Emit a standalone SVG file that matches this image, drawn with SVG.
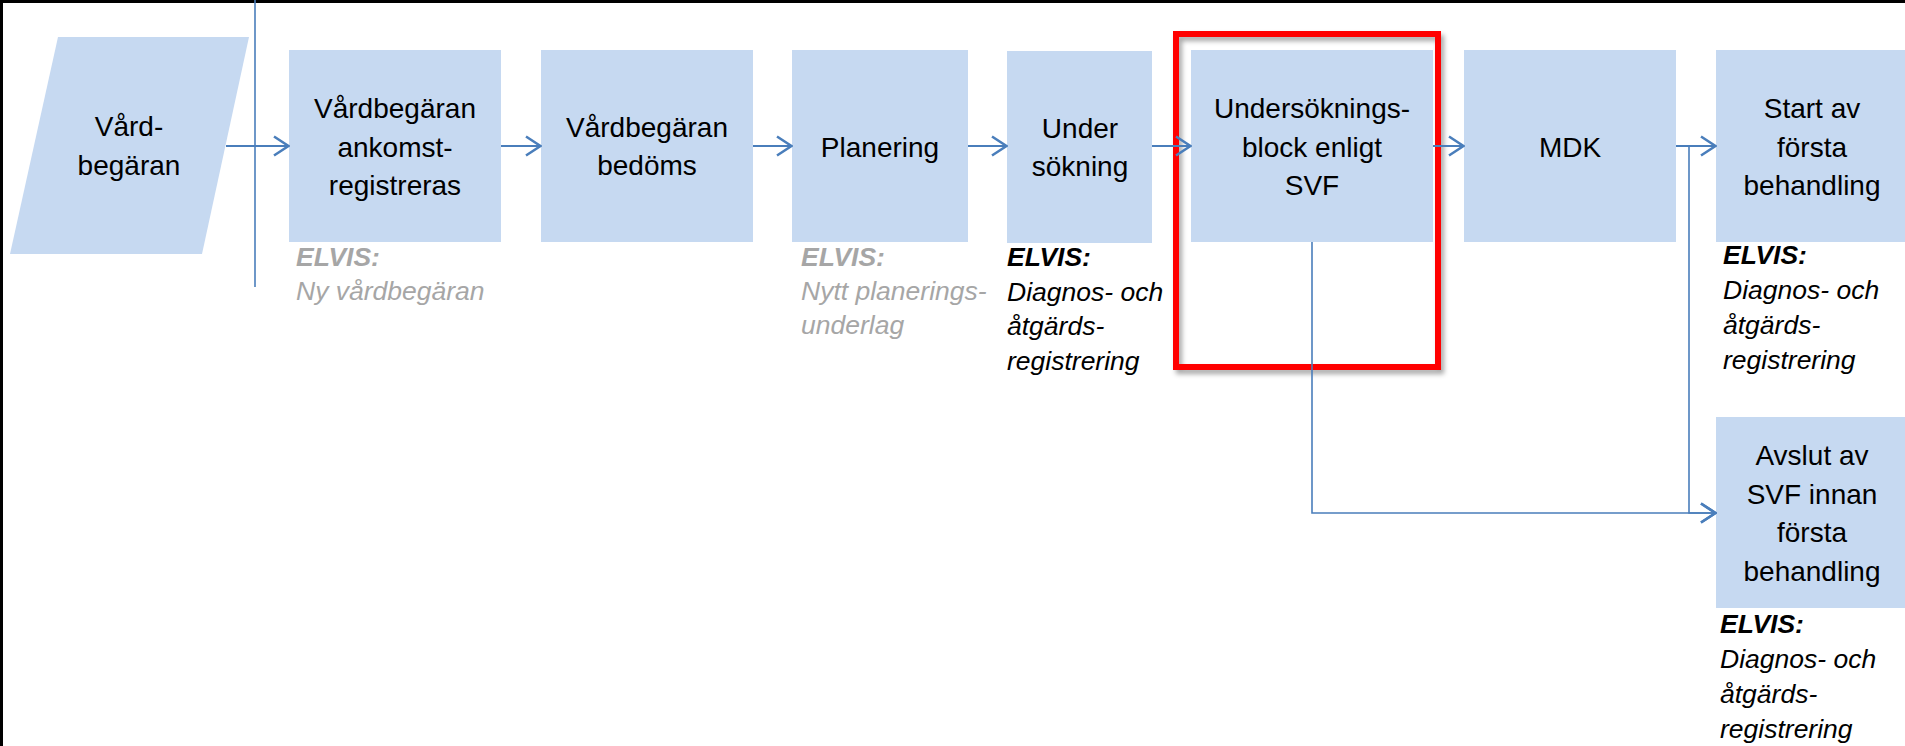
<svg xmlns="http://www.w3.org/2000/svg" width="1905" height="746" viewBox="0 0 1905 746">
<style>
.box{fill:#C6D9F1;}
.t{font-family:"Liberation Sans",Arial,sans-serif;font-size:28px;fill:#000;text-anchor:middle;}
.a{font-family:"Liberation Sans",Arial,sans-serif;font-size:26.5px;font-style:italic;}
.ab{font-weight:bold;}
.gray{fill:#A6A6A6;}
.blk{fill:#000;}
.c{fill:none;stroke:#4A7EBB;stroke-width:2;}
.cv{fill:none;stroke:#4A7EBB;stroke-width:1.6;}
</style>
<defs>
<marker id="arr" viewBox="0 0 18 22" refX="17" refY="11" markerWidth="18" markerHeight="22" markerUnits="userSpaceOnUse" orient="auto">
<path d="M2,1.5 L16.5,11 L2,20.5" fill="none" stroke="#4A7EBB" stroke-width="2.6"/>
</marker>
<filter id="sh" x="-10%" y="-10%" width="130%" height="130%">
<feDropShadow dx="3" dy="4" stdDeviation="2.5" flood-color="#000" flood-opacity="0.35"/>
</filter>
</defs>
<rect x="0" y="0" width="1905" height="746" fill="#fff"/>
<rect x="0" y="0" width="1905" height="3" fill="#000"/>
<rect x="0" y="0" width="3" height="746" fill="#000"/>
<line x1="255" y1="0" x2="255" y2="287" stroke="#4A7EBB" stroke-width="1.6"/>

<g id="n-vardbegaran">
<polygon class="box" points="58,37 249,37 202,254 10,254"/>
<text class="t" x="129" y="136">Vård-</text>
<text class="t" x="129" y="175">begäran</text>
</g>
<g id="n-ankomst">
<rect class="box" x="289" y="50" width="212" height="192"/>
<text class="t" x="395" y="118">Vårdbegäran</text>
<text class="t" x="395" y="157">ankomst-</text>
<text class="t" x="395" y="195">registreras</text>
<text class="a ab gray" x="296" y="266">ELVIS:</text>
<text class="a gray" x="296" y="300">Ny vårdbegäran</text>
</g>
<g id="n-bedoms">
<rect class="box" x="541" y="50" width="212" height="192"/>
<text class="t" x="647" y="137">Vårdbegäran</text>
<text class="t" x="647" y="175">bedöms</text>
</g>
<g id="n-planering">
<rect class="box" x="792" y="50" width="176" height="192"/>
<text class="t" x="880" y="157">Planering</text>
<text class="a ab gray" x="801" y="266">ELVIS:</text>
<text class="a gray" x="801" y="300">Nytt planerings-</text>
<text class="a gray" x="801" y="334">underlag</text>
</g>
<g id="n-undersokning">
<rect class="box" x="1007" y="51" width="145" height="192"/>
<text class="t" x="1080" y="138">Under</text>
<text class="t" x="1080" y="176">sökning</text>
<text class="a ab blk" x="1007" y="266">ELVIS:</text>
<text class="a blk" x="1007" y="301">Diagnos- och</text>
<text class="a blk" x="1007" y="335">åtgärds-</text>
<text class="a blk" x="1007" y="370">registrering</text>
</g>
<g id="n-block">
<rect class="box" x="1191" y="50" width="242" height="192"/>
<text class="t" x="1312" y="118">Undersöknings-</text>
<text class="t" x="1312" y="157">block enligt</text>
<text class="t" x="1312" y="195">SVF</text>
</g>
<g id="n-mdk">
<rect class="box" x="1464" y="50" width="212" height="192"/>
<text class="t" x="1570" y="157">MDK</text>
</g>
<g id="n-start">
<rect class="box" x="1716" y="50" width="212" height="192"/>
<text class="t" x="1812" y="118">Start av</text>
<text class="t" x="1812" y="157">första</text>
<text class="t" x="1812" y="195">behandling</text>
<text class="a ab blk" x="1723" y="264">ELVIS:</text>
<text class="a blk" x="1723" y="299">Diagnos- och</text>
<text class="a blk" x="1723" y="334">åtgärds-</text>
<text class="a blk" x="1723" y="369">registrering</text>
</g>
<g id="n-avslut">
<rect class="box" x="1716" y="417" width="212" height="191"/>
<text class="t" x="1812" y="465">Avslut av</text>
<text class="t" x="1812" y="504">SVF innan</text>
<text class="t" x="1812" y="542">första</text>
<text class="t" x="1812" y="581">behandling</text>
<text class="a ab blk" x="1720" y="633">ELVIS:</text>
<text class="a blk" x="1720" y="668">Diagnos- och</text>
<text class="a blk" x="1720" y="703">åtgärds-</text>
<text class="a blk" x="1720" y="738">registrering</text>
</g>

<g id="highlight">
<rect x="1176" y="34" width="262" height="333" fill="none" stroke="#FF0000" stroke-width="6" filter="url(#sh)"/>
</g>

<g id="connectors">
<line class="c" x1="226" y1="146" x2="289" y2="146" marker-end="url(#arr)"/>
<line class="c" x1="501" y1="146" x2="541" y2="146" marker-end="url(#arr)"/>
<line class="c" x1="753" y1="146" x2="792" y2="146" marker-end="url(#arr)"/>
<line class="c" x1="968" y1="146" x2="1007" y2="146" marker-end="url(#arr)"/>
<line class="c" x1="1152" y1="146" x2="1191" y2="146" marker-end="url(#arr)"/>
<line class="c" x1="1433" y1="146" x2="1464" y2="146" marker-end="url(#arr)"/>
<line class="c" x1="1676" y1="146" x2="1716" y2="146" marker-end="url(#arr)"/>
<path class="cv" d="M1676,146 H1689 V513 H1716" marker-end="url(#arr)"/>
<path class="cv" d="M1312,242 V513 H1716" marker-end="url(#arr)"/>
</g>
</svg>
